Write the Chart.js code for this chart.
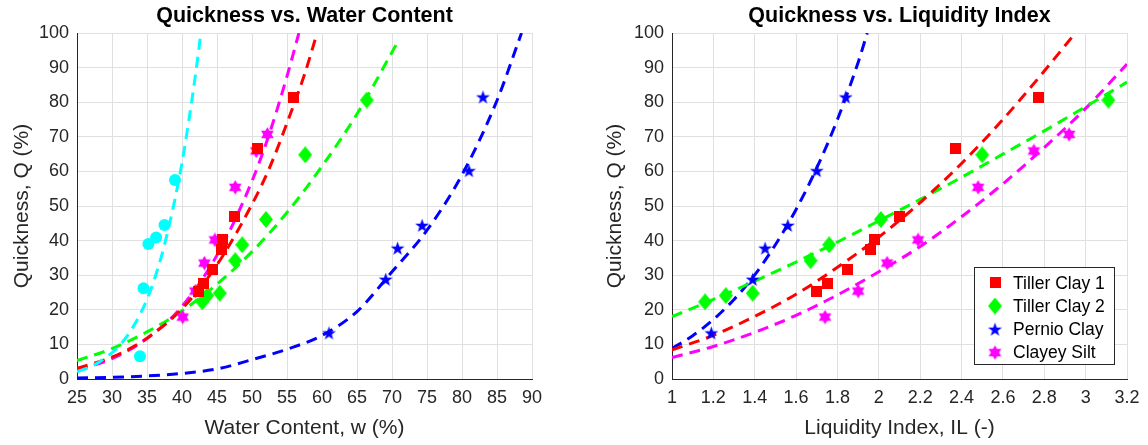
<!DOCTYPE html>
<html>
<head>
<meta charset="utf-8">
<script src="https://cdn.jsdelivr.net/npm/chart.js@4.4.1/dist/chart.umd.min.js"></script>
<style>
  html, body { margin: 0; padding: 0; background: #ffffff; }
  #wrap { position: relative; width: 1148px; height: 445px; overflow: hidden; }
  canvas { position: absolute; top: 0; }
  #c1 { left: 0; }
  #c2 { left: 574px; }
</style>
</head>
<body>
<div id="wrap">
  <canvas id="c1" width="574" height="445"></canvas>
  <canvas id="c2" width="574" height="445"></canvas>
</div>
<script>
// ---------------- Data ----------------
const seriesNames = ['Tiller Clay 1', 'Tiller Clay 2', 'Pernio Clay', 'Clayey Silt'];
const chartTitles = ['Quickness vs. Water Content', 'Quickness vs. Liquidity Index'];

// Tiller Clay 1
const qTillerClay1  = [25.2, 27.7, 31.7, 37.4, 40.4, 46.9, 66.6, 81.3];
const wTillerClay1  = [42.4, 43.1, 44.4, 45.7, 45.8, 47.5, 50.8, 55.9];
const ilTillerClay1 = [1.70, 1.75, 1.85, 1.96, 1.98, 2.10, 2.37, 2.77];

// Tiller Clay 2
const qTillerClay2  = [22.3, 24.1, 24.8, 34.2, 38.8, 46.1, 64.8, 80.6];
const wTillerClay2  = [42.9, 43.6, 45.4, 47.6, 48.6, 52.0, 57.6, 66.4];
const ilTillerClay2 = [1.16, 1.26, 1.39, 1.67, 1.76, 2.01, 2.50, 3.11];

// Pernio Clay
const qPernio  = [13.3, 28.8, 37.8, 44.4, 60.2, 81.5];
const wPernio  = [61.0, 69.1, 70.8, 74.3, 81.0, 83.0];
const ilPernio = [1.19, 1.39, 1.45, 1.56, 1.70, 1.84];

// Clayey Silt
const qClayeySilt  = [17.9, 25.4, 33.5, 40.2, 55.4, 65.9, 70.7];
const wClayeySilt  = [40.1, 41.9, 43.2, 44.7, 47.6, 50.6, 52.2];
const ilClayeySilt = [1.74, 1.90, 2.04, 2.19, 2.48, 2.75, 2.92];

// Extra (cyan) series, water-content plot only
const qCyan = [6.6, 26.2, 39.0, 40.9, 44.5, 57.5];
const wCyan = [34.0, 34.5, 35.2, 36.3, 37.5, 39.0];

// Fitted curves
const fitCyanW = [25, 27, 29, 31, 33, 35, 36, 37, 38, 39, 40, 41, 42, 42.7];
const fitCyanQ = [2.1, 3.6, 6.0, 9.5, 15, 23, 28.5, 35, 43, 52, 62.5, 75, 89, 100];
const fitTC1W  = [25, 30, 35, 40, 45, 50, 52.5, 55, 57.5, 59.3];
const fitTC1Q  = [3.1, 6.3, 11.8, 20.3, 33, 50.5, 61, 74, 88, 100];
const fitTC2W  = [25, 30, 35, 40, 45, 50, 55, 60, 65, 70.7];
const fitTC2Q  = [5.3, 8.8, 13.6, 19.7, 27.4, 36.8, 48.1, 61.5, 76.6, 97];
const fitPerW  = [25, 30, 35, 40, 45, 50, 55, 60, 65, 70, 75, 80, 85, 88.5];
const fitPerQ  = [0.3, 0.5, 0.9, 1.6, 2.9, 5.6, 8.6, 12.6, 19.5, 31, 43, 59, 80.5, 100];
const fitCSW   = [25, 30, 35, 40, 45, 50, 52.5, 55, 56.7];
const fitCSQ   = [2.6, 5.9, 11.7, 21, 35.8, 57.2, 71, 87.5, 100];

// Fitted curves
const fitTC1IL  = [1.0, 1.2, 1.4, 1.6, 1.8, 2.0, 2.2, 2.4, 2.6, 2.8, 2.95];
const fitTC1QIL = [8.4, 12.6, 18.1, 24.5, 32.3, 41, 51, 62.3, 75, 89, 100];
const fitTC2IL  = [1.0, 1.2, 1.4, 1.6, 1.8, 2.0, 2.2, 2.4, 2.6, 2.8, 3.0, 3.2];
const fitTC2QIL = [18, 23, 28.3, 33.8, 39.6, 45.7, 51.9, 58.3, 65, 71.7, 78.7, 85.8];
const fitPerIL  = [1.0, 1.1, 1.2, 1.3, 1.4, 1.5, 1.6, 1.7, 1.8, 1.9, 1.944];
const fitPerQIL = [8.8, 12.5, 17.2, 23, 30.1, 38.8, 49, 61, 75, 91.5, 100];
const fitCSIL   = [1.0, 1.2, 1.4, 1.6, 1.8, 2.0, 2.2, 2.4, 2.6, 2.8, 3.0, 3.2];
const fitCSQIL  = [6.2, 9.4, 13.5, 18.4, 24.3, 31, 38.3, 46.9, 56.4, 66.9, 78.2, 91];

// Axis ticks
const wTicks  = [25, 30, 35, 40, 45, 50, 55, 60, 65, 70, 75, 80, 85, 90];
const ilTicks = [1, 1.2, 1.4, 1.6, 1.8, 2, 2.2, 2.4, 2.6, 2.8, 3, 3.2];
const qTicks  = [0, 10, 20, 30, 40, 50, 60, 70, 80, 90, 100];

// ---------------- Styling ----------------
const RED = '#ff0000', GREEN = '#00ff00', BLUE = '#0000ff', MAG = '#ff00ff', CYAN = '#00ffff';
const FONT = "'Liberation Sans', Arial, Helvetica, sans-serif";
const AXIS_COLOR = '#262626';
const GRID_COLOR = '#e0e0e0';

function makeCanvas(w, h, draw) {
  const c = document.createElement('canvas');
  c.width = w; c.height = h;
  const ctx = c.getContext('2d');
  draw(ctx, w, h);
  return c;
}
const squareImg = makeCanvas(11, 11, (ctx) => { ctx.fillStyle = RED; ctx.fillRect(0, 0, 11, 11); });
const diamondImg = makeCanvas(14, 17, (ctx, w, h) => {
  ctx.fillStyle = GREEN; ctx.beginPath();
  ctx.moveTo(w / 2, 0); ctx.lineTo(w, h / 2); ctx.lineTo(w / 2, h); ctx.lineTo(0, h / 2);
  ctx.closePath(); ctx.fill();
});
function starPath(ctx, cx, cy, n, ro, ri, rot) {
  ctx.beginPath();
  for (let i = 0; i < 2 * n; i++) {
    const r = i % 2 === 0 ? ro : ri;
    const a = rot + i * Math.PI / n;
    const x = cx + r * Math.cos(a), y = cy + r * Math.sin(a);
    if (i === 0) ctx.moveTo(x, y); else ctx.lineTo(x, y);
  }
  ctx.closePath();
}
const pentaImg = makeCanvas(15, 15, (ctx) => {
  ctx.fillStyle = BLUE; starPath(ctx, 7.5, 8, 5, 7.3, 2.9, -Math.PI / 2); ctx.fill();
});
const hexaImg = makeCanvas(15, 15, (ctx) => {
  ctx.fillStyle = MAG; starPath(ctx, 7.5, 7.5, 6, 7.3, 4.2, -Math.PI / 2); ctx.fill();
});

function pts(xs, ys) { return xs.map((x, i) => ({ x: x, y: ys[i] })); }

function scatterDS(label, xs, ys, style, color, radius) {
  return {
    type: 'scatter', label: label, data: pts(xs, ys),
    pointStyle: style, pointRadius: radius || 6, pointHoverRadius: radius || 6,
    backgroundColor: color, borderColor: color, borderWidth: 0, showLine: false, order: 1
  };
}
function fitDS(xs, ys, color) {
  return {
    type: 'line', label: '_fit', data: pts(xs, ys),
    borderColor: color, borderWidth: 3, borderDash: [11, 7], borderCapStyle: 'butt',
    pointRadius: 0, pointHoverRadius: 0, fill: false,
    cubicInterpolationMode: 'monotone', order: 2
  };
}

function axisOptions(min, max, ticksArr, titleText, isX, fixedSize, titlePad) {
  return {
    type: 'linear', min: min, max: max,
    afterBuildTicks: (s) => { s.ticks = ticksArr.map(v => ({ value: v })); },
    ticks: {
      font: { family: FONT, size: 18 }, color: AXIS_COLOR,
      padding: 8, maxRotation: 0, autoSkip: false,
      callback: (v) => String(v)
    },
    grid: { color: GRID_COLOR, lineWidth: 1, drawTicks: false },
    border: { display: true, color: AXIS_COLOR, width: 1 },
    title: {
      display: true, text: titleText, color: AXIS_COLOR,
      font: { family: FONT, size: 21 }, padding: titlePad
    },
    afterFit: (s) => { if (isX) s.height = fixedSize; else s.width = fixedSize; }
  };
}

// Title centred over the plot area (as in the reference)
const areaTitle = {
  id: 'areaTitle',
  afterDraw(chart, args, opts) {
    const ctx = chart.ctx, ca = chart.chartArea;
    ctx.save();
    ctx.font = 'bold 21.5px ' + FONT;
    ctx.fillStyle = '#000000';
    ctx.textAlign = 'center'; ctx.textBaseline = 'middle';
    ctx.fillText(opts.text, (ca.left + ca.right) / 2, ca.top - 17);
    ctx.restore();
  }
};

// Legend plugin (drawn inside the right chart's plot area)
const legendItems = [
  { text: seriesNames[0], img: squareImg },
  { text: seriesNames[1], img: diamondImg },
  { text: seriesNames[2], img: pentaImg },
  { text: seriesNames[3], img: hexaImg }
];
const boxLegend = {
  id: 'boxLegend',
  afterDraw(chart) {
    const ctx = chart.ctx;
    const ca = chart.chartArea;
    const w = 140, h = 97;
    const x0 = ca.right - 153, y0 = ca.bottom - 112;
    ctx.save();
    ctx.fillStyle = '#ffffff';
    ctx.fillRect(x0, y0, w, h);
    ctx.strokeStyle = '#262626'; ctx.lineWidth = 1;
    ctx.strokeRect(Math.round(x0) + 0.5, Math.round(y0) + 0.5, w, h);
    ctx.font = '17.5px ' + FONT;
    ctx.fillStyle = '#000000';
    ctx.textBaseline = 'middle'; ctx.textAlign = 'left';
    legendItems.forEach((it, i) => {
      const cy = y0 + 15.7 + i * 23.3;
      ctx.drawImage(it.img, x0 + 21 - it.img.width / 2, cy - it.img.height / 2);
      ctx.fillText(it.text, x0 + 39, cy + 1);
    });
    ctx.restore();
  }
};

// ---------------- Left chart: Quickness vs. Water Content ----------------
new Chart(document.getElementById('c1'), {
  data: {
    datasets: [
      fitDS(fitCyanW, fitCyanQ, CYAN),
      fitDS(fitTC1W, fitTC1Q, RED),
      fitDS(fitTC2W, fitTC2Q, GREEN),
      fitDS(fitPerW, fitPerQ, BLUE),
      fitDS(fitCSW, fitCSQ, MAG),
      scatterDS('Cyan', wCyan, qCyan, 'circle', CYAN, 6),
      scatterDS(seriesNames[0], wTillerClay1, qTillerClay1, squareImg, RED),
      scatterDS(seriesNames[1], wTillerClay2, qTillerClay2, diamondImg, GREEN),
      scatterDS(seriesNames[2], wPernio, qPernio, pentaImg, BLUE),
      scatterDS(seriesNames[3], wClayeySilt, qClayeySilt, hexaImg, MAG)
    ]
  },
  options: {
    responsive: false, animation: false, devicePixelRatio: 1,
    layout: { padding: { left: 0, right: 42, top: 33, bottom: 0 } },
    plugins: {
      legend: { display: false }, tooltip: { enabled: false }, title: { display: false },
      areaTitle: { text: chartTitles[0] }
    },
    scales: {
      x: axisOptions(25, 90, wTicks, 'Water Content, w (%)', true, 66, { top: 0, bottom: 4.4 }),
      y: axisOptions(0, 100, qTicks, 'Quickness, Q (%)', false, 77, { top: 9.4, bottom: 0 })
    }
  },
  plugins: [areaTitle]
});

// ---------------- Right chart: Quickness vs. Liquidity Index ----------------
new Chart(document.getElementById('c2'), {
  data: {
    datasets: [
      fitDS(fitTC1IL, fitTC1QIL, RED),
      fitDS(fitTC2IL, fitTC2QIL, GREEN),
      fitDS(fitPerIL, fitPerQIL, BLUE),
      fitDS(fitCSIL, fitCSQIL, MAG),
      scatterDS(seriesNames[0], ilTillerClay1, qTillerClay1, squareImg, RED),
      scatterDS(seriesNames[1], ilTillerClay2, qTillerClay2, diamondImg, GREEN),
      scatterDS(seriesNames[2], ilPernio, qPernio, pentaImg, BLUE),
      scatterDS(seriesNames[3], ilClayeySilt, qClayeySilt, hexaImg, MAG)
    ]
  },
  options: {
    responsive: false, animation: false, devicePixelRatio: 1,
    layout: { padding: { left: 0, right: 21, top: 33, bottom: 0 } },
    plugins: {
      legend: { display: false }, tooltip: { enabled: false }, title: { display: false },
      areaTitle: { text: chartTitles[1] }
    },
    scales: {
      x: axisOptions(1, 3.2, ilTicks, 'Liquidity Index, IL (-)', true, 66, { top: 0, bottom: 4.4 }),
      y: axisOptions(0, 100, qTicks, 'Quickness, Q (%)', false, 98, { top: 28.4, bottom: 0 })
    }
  },
  plugins: [areaTitle, boxLegend]
});
</script>
</body>
</html>
